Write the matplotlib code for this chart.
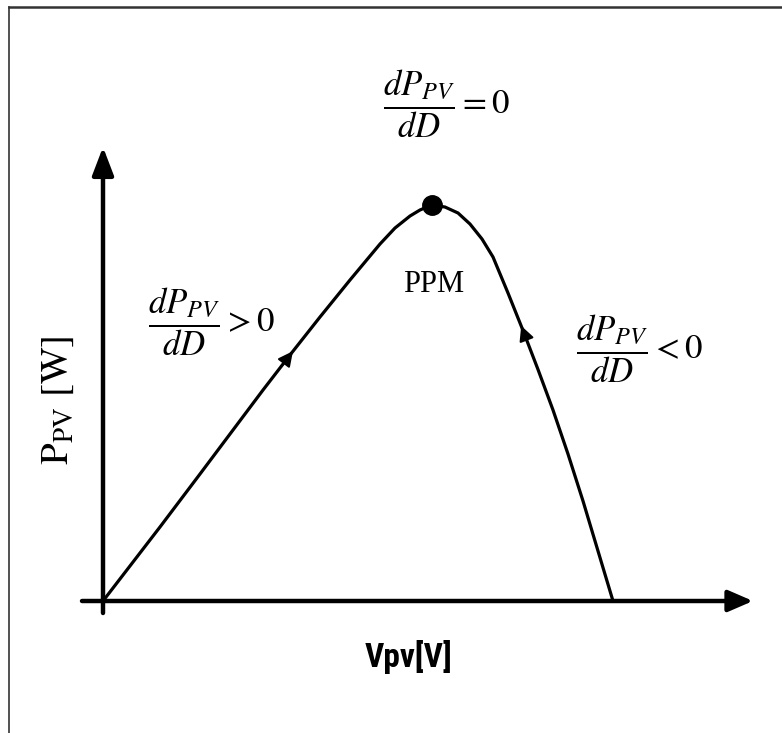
import matplotlib
matplotlib.use("Agg")
import matplotlib.pyplot as plt
from matplotlib.lines import Line2D
from matplotlib.patches import FancyArrowPatch
from matplotlib import font_manager

plt.rcParams['mathtext.fontset'] = 'stix'

# ---- data (PV characteristic) ----
v_pv = [0.0, 2.235, 3.804, 6.275, 7.333, 8.510, 9.686, 10.275, 10.863, 11.451,
        12.039, 12.431, 12.902, 13.412, 13.922, 14.392, 14.863, 15.294, 15.882,
        16.471, 17.059, 17.647, 18.235, 18.824, 19.412, 20.0]
p_pv = [0.0, 18.69, 32.07, 53.28, 62.12, 71.72, 81.06, 85.61, 90.15, 94.19,
        97.22, 98.74, 100.0, 99.49, 97.98, 95.20, 91.41, 86.87, 77.78,
        68.31, 58.46, 48.23, 37.12, 25.25, 12.63, 0.0]
mpp_v, mpp_p = 12.902, 100.0
# direction markers along the curve (from -> to)
arrow_left = ((7.0, 59.3), (7.45, 63.1))
arrow_right = ((16.62, 65.8), (16.40, 69.5))

W, H = 782, 733
fig = plt.figure(figsize=(W / 100, H / 100), dpi=100)
ax = fig.add_axes([0, 0, 1, 1])

# pixel mapping: origin at (103,601), V=20 at x=613, P=100 at y=205
def vx(px):
    return (px - 103) / 510 * 20
def py(pix):
    return (601 - pix) / 396 * 100

ax.set_xlim(vx(0), vx(W))
ax.set_ylim(py(H), py(0))
ax.axis('off')

# axes with arrows
ax.annotate('', xy=(0, py(147)), xytext=(0, py(613)),
            arrowprops=dict(arrowstyle='-|>,head_length=1.7,head_width=0.65',
                            lw=3.2, color='black', shrinkA=0, shrinkB=0,
                            mutation_scale=10))
ax.annotate('', xy=(vx(753), 0), xytext=(vx(82), 0),
            arrowprops=dict(arrowstyle='-|>,head_length=1.5,head_width=0.65',
                            lw=3.2, color='black', shrinkA=0, shrinkB=0,
                            mutation_scale=10))

# curve
ax.plot(v_pv, p_pv, color='black', lw=2.3, solid_joinstyle='round')
ax.plot([mpp_v], [mpp_p], 'o', color='black', markersize=14)

for (a, b) in (arrow_left, arrow_right):
    ax.add_patch(FancyArrowPatch(a, b, arrowstyle='-|>,head_length=0.9,head_width=0.45',
                                 mutation_scale=10, color='black', lw=1.5,
                                 shrinkA=0, shrinkB=0))

def ft(x, y, s, **kw):
    fig.text(x / W, 1 - y / H, s, **kw)

ft(446, 104, r'$\dfrac{dP_{PV}}{dD}=0$', fontsize=25, ha='center', va='center')
ft(211, 322, r'$\dfrac{dP_{PV}}{dD}>0$', fontsize=25, ha='center', va='center')
ft(639, 349, r'$\dfrac{dP_{PV}}{dD}<0$', fontsize=25, ha='center', va='center')
ft(434, 284, 'PPM', fontsize=22, family='Liberation Serif', ha='center', va='center')
ft(57, 400, r'$\mathrm{P_{PV}\ [W]}$', fontsize=28, rotation=90, ha='center', va='center')

names = {f.name for f in font_manager.fontManager.ttflist}
xfam = 'Liberation Sans'
for cand in ('Liberation Sans Narrow', 'DejaVu Sans Condensed', 'Roboto Condensed'):
    if cand in names:
        xfam = cand
        break
ft(409, 657, 'Vpv[V]', fontsize=24, family=xfam, fontweight='bold', ha='center', va='center')

# frame around the picture (top and left edges)
fig.add_artist(Line2D([9 / W, 1.0], [1 - 7 / H, 1 - 7 / H], transform=fig.transFigure,
                      color='#333333', lw=1.8))
fig.add_artist(Line2D([9 / W, 9 / W], [0.0, 1 - 7 / H], transform=fig.transFigure,
                      color='#333333', lw=1.2))

fig.savefig('out.png', dpi=100)
